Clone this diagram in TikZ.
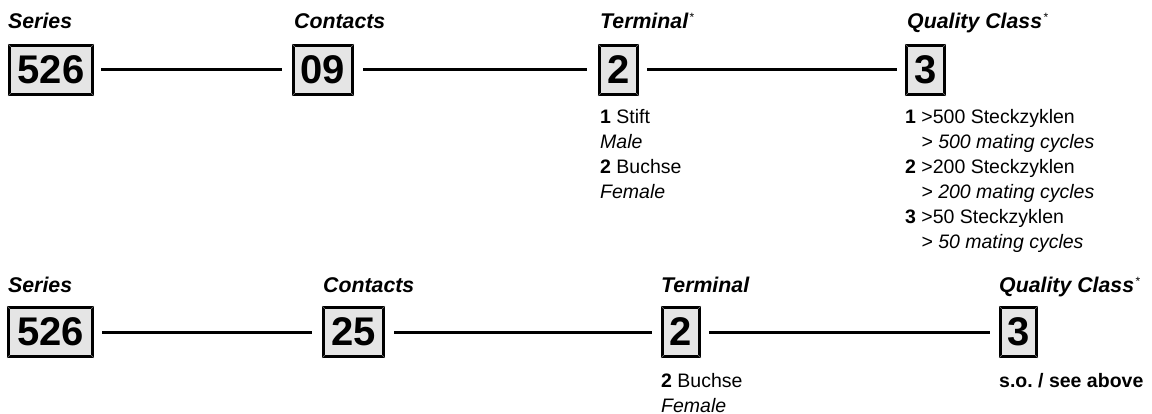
\documentclass[tikz,border=0pt]{standalone}
\usepackage{fontspec}
\setmainfont{Liberation Sans}
\usetikzlibrary{calc}
\frenchspacing
\newcommand{\bevelbox}[1]{%
  \draw[bevelline] (#1.north west) -- ++(3,3);
  \draw[bevelline] (#1.north east) -- ++(-3,3);
  \draw[bevelline] (#1.south west) -- ++(3,-3);
  \draw[bevelline] (#1.south east) -- ++(-3,-3);}
\newcommand{\supstar}{\kern1.5pt{\upshape\mdseries\fontsize{12}{12}\selectfont\raisebox{7pt}{*}}}
\begin{document}
\begin{tikzpicture}[x=1pt,y=-1pt,
  numbox/.style={draw=black, line width=3pt, fill=black!10, inner sep=0pt,
    minimum height=49pt, font=\fontsize{40}{40}\selectfont\bfseries},
  bevelline/.style={draw=black!55, line width=0.6pt},
  conn/.style={draw=black, line width=3pt},
  lab/.style={anchor=base west, inner sep=0pt, font=\fontsize{21.3}{21.3}\selectfont\bfseries\itshape},
  txt/.style={anchor=base west, inner sep=0pt, font=\fontsize{19.5}{25}\selectfont}]
\useasboundingbox (0,0) rectangle (1152,414);

% ---------- top row ----------
\node[numbox, minimum width=83pt] (a1) at (51,70) {526};
\node[numbox, minimum width=59pt] (a2) at (323,70) {09};
\node[numbox, minimum width=38pt] (a3) at (618.5,70) {2};
\node[numbox, minimum width=38pt] (a4) at (925.5,70) {3};
\foreach \n in {a1,a2,a3,a4}{\bevelbox{\n}}

\draw[conn] ([xshift=7pt]a1.east) -- ([xshift=-10pt]a2.west);
\draw[conn] ([xshift=9pt]a2.east) -- ([xshift=-11pt]a3.west);
\draw[conn] ([xshift=8pt]a3.east) -- ([xshift=-8pt]a4.west);

\node[lab] (la1) at (8,29) {Series};
\node[lab] (la2) at (294,29) {Contacts};
\node[lab] (la3) at (600,29) {Terminal\supstar};
\node[lab] (la4) at (907,29) {Quality Class\supstar};

\node[txt] (t1) at (600,124) {\textbf{1} Stift};
\node[txt] (t2) at (600,149) {\textit{Male}};
\node[txt] (t3) at (600,174) {\textbf{2} Buchse};
\node[txt] (t4) at (600,199) {\textit{Female}};

\node[txt] (q1) at (905,124) {\textbf{1} >500 Steckzyklen};
\node[txt] (q2) at (905,149) {\phantom{\textbf{1} }\textit{> 500 mating cycles}};
\node[txt] (q3) at (905,174) {\textbf{2} >200 Steckzyklen};
\node[txt] (q4) at (905,199) {\phantom{\textbf{2} }\textit{> 200 mating cycles}};
\node[txt] (q5) at (905,224) {\textbf{3} >50 Steckzyklen};
\node[txt] (q6) at (905,249) {\phantom{\textbf{3} }\textit{> 50 mating cycles}};

% ---------- bottom row ----------
\node[numbox, minimum width=84pt] (b1) at (50.5,332) {526};
\node[numbox, minimum width=60pt] (b2) at (353.5,332) {25};
\node[numbox, minimum width=37pt] (b3) at (681,332) {2};
\node[numbox, minimum width=36pt] (b4) at (1018.5,332) {3};
\foreach \n in {b1,b2,b3,b4}{\bevelbox{\n}}

\draw[conn] ([xshift=8pt]b1.east) -- ([xshift=-10pt]b2.west);
\draw[conn] ([xshift=9pt]b2.east) -- ([xshift=-9pt]b3.west);
\draw[conn] ([xshift=8pt]b3.east) -- ([xshift=-9pt]b4.west);

\node[lab] (lb1) at (8,293) {Series};
\node[lab] (lb2) at (323,293) {Contacts};
\node[lab] (lb3) at (661,293) {Terminal};
\node[lab] (lb4) at (999,293) {Quality Class\supstar};

\node[txt] (u1) at (661,387) {\textbf{2} Buchse};
\node[txt] (u2) at (661,412) {\textit{Female}};
\node[txt] (v1) at (999,387) {\textbf{s.o. / see above}};
\end{tikzpicture}
\end{document}
